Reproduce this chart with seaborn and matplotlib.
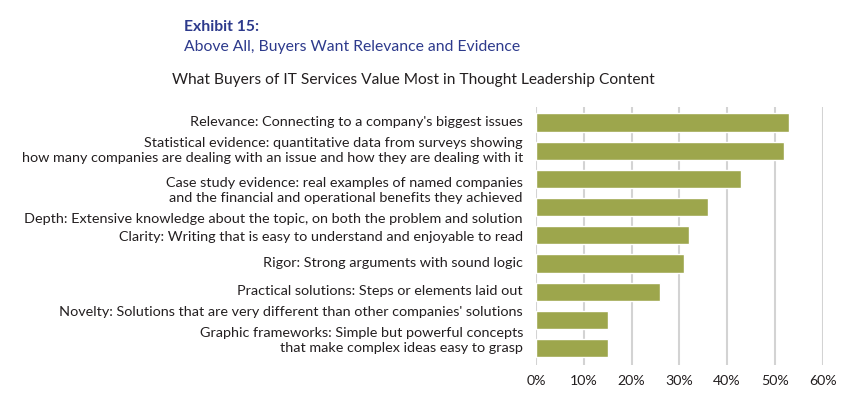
import pandas as pd
import matplotlib
matplotlib.use("Agg")
import matplotlib.pyplot as plt
import matplotlib.transforms as mtransforms
import seaborn as sns

# data
labels = [
    "Relevance: Connecting to a company's biggest issues",
    "Statistical evidence: quantitative data from surveys showing\n"
    "how many companies are dealing with an issue and how they are dealing with it",
    "Case study evidence: real examples of named companies\n"
    "and the financial and operational benefits they achieved",
    "Depth: Extensive knowledge about the topic, on both the problem and solution",
    "Clarity: Writing that is easy to understand and enjoyable to read",
    "Rigor: Strong arguments with sound logic",
    "Practical solutions: Steps or elements laid out",
    "Novelty: Solutions that are very different than other companies' solutions",
    "Graphic frameworks: Simple but powerful concepts\n"
    "that make complex ideas easy to grasp",
]
shares = [53, 52, 43, 36, 32, 31, 26, 15, 15]
x_ticks = [0, 10, 20, 30, 40, 50, 60]
x_ticklabels = ["0%", "10%", "20%", "30%", "40%", "50%", "60%"]

# the category labels in the original sit a little off their bars (pixels, down = +)
label_nudge = [-1, 0, 12, 12, 1.5, 0, -1, -8, -7.5]

df = pd.DataFrame({"label": labels, "share": shares})

sns.set_style("white")
plt.rcParams["font.family"] = ["Lato", "DejaVu Sans"]

navy = "#2d3a8c"
text_col = "#231f20"
bar_col = "#9da64c"

fig = plt.figure(figsize=(8.61, 3.94), dpi=100)
ax = fig.add_axes([0.6225, 0.0736, 0.333, 0.6548])

ax.grid(axis="x", color="#d3d3d3", linewidth=1.5)
ax.set_axisbelow(True)
sns.barplot(data=df, x="share", y="label", color=bar_col, width=0.64,
            saturation=1, ax=ax)

ax.set_xlim(0, 60)
ax.set_ylim(8.6, -0.55)
ax.set_xticks(x_ticks)
ax.set_xticklabels(x_ticklabels)
ax.set_yticklabels([])
ax.set_xlabel("")
ax.set_ylabel("")
ax.tick_params(axis="both", length=0, colors=text_col)
ax.tick_params(axis="x", pad=7, labelsize=10.2)
sns.despine(ax=ax, left=True, bottom=True)

# category labels drawn as text so they can follow the original placement
base = mtransforms.blended_transform_factory(ax.transAxes, ax.transData)
for i, (lab, dy) in enumerate(zip(labels, label_nudge)):
    tr = mtransforms.offset_copy(base, fig=fig, x=-13, y=-dy, units="dots")
    ax.text(0, i, lab, transform=tr, ha="right", va="center", fontsize=10.4,
            color=text_col, linespacing=1.3)

fig.text(184 / 861, 1 - 27 / 394, "Exhibit 15:", color=navy, fontsize=11.3,
         fontweight="bold", va="center", ha="left")
fig.text(184 / 861, 1 - 47 / 394, "Above All, Buyers Want Relevance and Evidence",
         color=navy, fontsize=11.3, va="center", ha="left")
fig.text(413 / 861, 1 - 80 / 394,
         "What Buyers of IT Services Value Most in Thought Leadership Content",
         color=text_col, fontsize=11.2, va="center", ha="center")

fig.savefig("out.png", dpi=100)
